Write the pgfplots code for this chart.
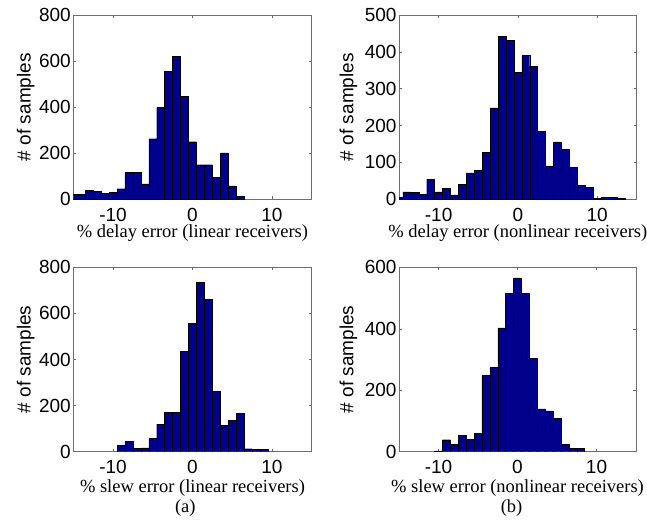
\documentclass[border=0pt]{standalone}
\usepackage{fontspec}
\setmainfont{Liberation Serif}
\newfontfamily\hel{Liberation Sans}
\usepackage{pgfplots}
\pgfplotsset{compat=1.18}
\definecolor{barblue}{RGB}{0,0,143}
\definecolor{axgray}{RGB}{110,110,110}
\pgfplotsset{
  hist/.style={
    scale only axis,
    anchor=south west,
    xmin=-15, xmax=15, ymin=0,
    xtick={-10,0,10},
    xticklabels={-10,0,10},
    axis line style={axgray, line width=0.6pt},
    tick style={axgray, line width=0.5pt},
    major tick length=3pt,
    tick align=inside,
    clip mode=individual,
    /pgf/number format/assume math mode=true,
    ticklabel style={font=\hel\fontsize{19}{21}\selectfont, text=black},
    xticklabel style={yshift=-5pt},
    yticklabel style={xshift=1pt},
    ylabel={\# of samples},
    ylabel style={font=\hel\fontsize{19}{21}\selectfont, anchor=center},
    xlabel style={font=\fontsize{18.5}{20}\selectfont, anchor=center},
  },
  bars/.style={ybar interval, fill=barblue, draw=black, line width=0.4pt},
}
\begin{document}
\begin{tikzpicture}[x=1pt,y=1pt]
\useasboundingbox (0,0) rectangle (647,525);
% top-left
\begin{axis}[hist, at={(73.3pt,325.7pt)}, width=238.4pt, height=184.3pt,
  ymax=800, ytick={0,200,400,600,800},
  xlabel={\% delay error (linear receivers)},
  xlabel style={at={(axis description cs:0.5,-0.185)}},
  ylabel style={at={(axis description cs:-0.2,0.5)}}]
\addplot[bars] coordinates {(-15.5,22) (-13.5,40) (-12.5,36) (-11.5,26) (-10.5,30) (-9.5,46) (-8.5,116) (-7.5,116) (-6.5,67) (-5.5,263) (-4.5,398) (-3.5,554) (-2.5,622) (-1.5,446) (-0.5,250) (0.5,150) (1.5,150) (2.5,95) (3.5,201) (4.5,58) (5.5,13) (6.5,0)};
\end{axis}
% top-right
\begin{axis}[hist, at={(399pt,325.7pt)}, width=237.7pt, height=184.3pt,
  ymax=500, ytick={0,100,200,300,400,500},
  xlabel={\% delay error (nonlinear receivers)},
  xlabel style={at={(axis description cs:0.5,-0.185)}},
  ylabel style={at={(axis description cs:-0.213,0.5)}}]
\addplot[bars] coordinates {(-15.5,5) (-14.5,20) (-13.5,18) (-12.5,14) (-11.5,55) (-10.5,20) (-9.5,29) (-8.5,12) (-7.5,41) (-6.5,72) (-5.5,78) (-4.5,127) (-3.5,248) (-2.5,443) (-1.5,431) (-0.5,345) (0.5,390) (1.5,361) (2.5,184) (3.5,91) (4.5,156) (5.5,136) (6.5,86) (7.5,38) (8.5,32) (9.5,3) (10.5,5) (11.5,5) (12.5,3) (13.5,0)};
\end{axis}
% bottom-left
\begin{axis}[hist, at={(73.3pt,73.3pt)}, width=238.4pt, height=184.4pt,
  ymax=800, ytick={0,200,400,600,800},
  xlabel={\% slew error (linear receivers)},
  xlabel style={at={(axis description cs:0.5,-0.195)}},
  ylabel style={at={(axis description cs:-0.2,0.5)}}]
\addplot[bars] coordinates {(-9.5,29) (-8.5,45) (-7.5,14) (-6.5,17) (-5.5,58) (-4.5,120) (-3.5,171) (-2.5,172) (-1.5,436) (-0.5,557) (0.5,735) (1.5,661) (2.5,262) (3.5,114) (4.5,137) (5.5,166) (6.5,13) (7.5,10) (8.5,10) (9.5,0)};
\node[font=\fontsize{18.5}{20}\selectfont, anchor=center] at (axis description cs:0.47,-0.305) {(a)};
\end{axis}
% bottom-right
\begin{axis}[hist, at={(399pt,73.3pt)}, width=237pt, height=184.4pt,
  ymax=600, ytick={0,200,400,600},
  xlabel={\% slew error (nonlinear receivers)},
  xlabel style={at={(axis description cs:0.5,-0.195)}},
  ylabel style={at={(axis description cs:-0.213,0.5)}}]
\addplot[bars] coordinates {(-10.5,3) (-9.5,39) (-8.5,25) (-7.5,54) (-6.5,40) (-5.5,59) (-4.5,249) (-3.5,274) (-2.5,403) (-1.5,515) (-0.5,566) (0.5,515) (1.5,304) (2.5,139) (3.5,133) (4.5,108) (5.5,24) (6.5,10) (7.5,10) (8.5,0)};
\node[font=\fontsize{18.5}{20}\selectfont, anchor=center] at (axis description cs:0.475,-0.305) {(b)};
\end{axis}
\end{tikzpicture}
\end{document}
